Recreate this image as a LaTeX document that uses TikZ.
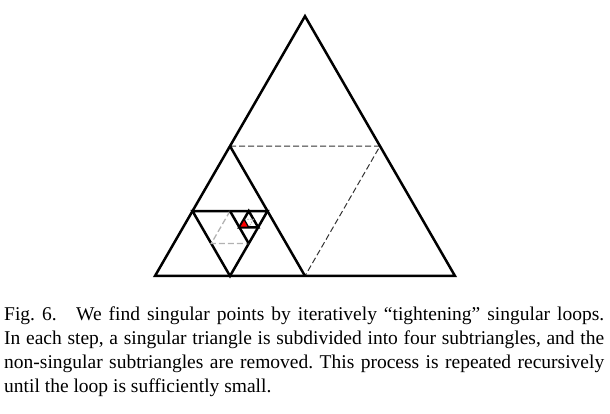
\documentclass[tikz,border=0pt]{standalone}
\usepackage{fontspec}
\setmainfont{Liberation Serif}
\usetikzlibrary{calc}
\begin{document}
\begin{tikzpicture}[x=1pt,y=1pt]
\tikzset{bord/.style={line width=2.5pt}}
\tikzset{coupe/.style={dash pattern=on 6pt off 3pt, line width=1pt, black!80}}
\tikzset{coupepale/.style={dash pattern=on 6pt off 3pt, line width=1.3pt, black!30}}
\useasboundingbox (0,0) rectangle (610,414);
% big triangle
\coordinate (A) at (155,138);
\coordinate (B) at (455,138);
\coordinate (C) at (305,397.8);
\coordinate (A1) at ($(A)!0.5!(B)$);
\coordinate (B1) at ($(B)!0.5!(C)$);
\coordinate (C1) at ($(A)!0.5!(C)$);
\draw[coupe] (C1) -- (B1) -- (A1);
\draw[bord] (A) -- (B) -- (C) -- cycle;
\draw[bord] (C1) -- (A1);
% step 2
\coordinate (P) at ($(A)!0.5!(A1)$);
\coordinate (Q) at ($(A1)!0.5!(C1)$);
\coordinate (R) at ($(A)!0.5!(C1)$);
\draw[bord] (R) -- (Q) -- (P) -- cycle;
% step 3
\coordinate (S) at ($(R)!0.5!(Q)$);
\coordinate (T) at ($(Q)!0.5!(P)$);
\coordinate (U) at ($(P)!0.5!(R)$);
\draw[coupepale] (S) -- (U) -- (T);
\draw[bord] (S) -- (T);
% step 4
\coordinate (V) at ($(S)!0.5!(Q)$);
\coordinate (W) at ($(Q)!0.5!(T)$);
\coordinate (X) at ($(T)!0.5!(S)$);
\draw[bord] (V) -- (W) -- (X) -- cycle;
% step 5
\coordinate (Y1) at ($(V)!0.5!(W)$);
\coordinate (Y2) at ($(W)!0.5!(X)$);
\coordinate (Y3) at ($(X)!0.5!(V)$);
\draw[coupepale, line width=0.8pt, dash pattern=on 2pt off 1pt] (Y3) -- (Y1) -- (Y2);
\draw[fill=red, line width=1.2pt] (X) -- (Y2) -- (Y3) -- cycle;
% caption
\node[anchor=north west, inner sep=0pt, text width=600pt, align=justify,
  font=\fontsize{19.5}{24}\selectfont\frenchspacing] (legende) at (4,107)
  {Fig. 6.\quad We find singular points by iteratively “tightening” singular loops.\linebreak
   In each step, a singular triangle is subdivided into four subtriangles, and the\linebreak
   non-singular subtriangles are removed. This process is repeated recursively\linebreak
   until the loop is sufficiently small.};
\end{tikzpicture}
\end{document}
